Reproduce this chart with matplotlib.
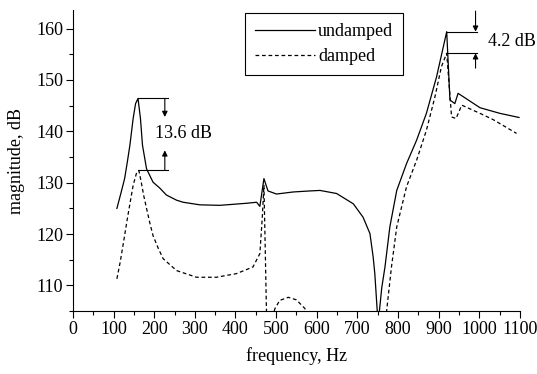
import numpy as np
import matplotlib
matplotlib.use('Agg')
import matplotlib.pyplot as plt

plt.rcParams['font.family'] = 'Liberation Serif'
plt.rcParams['font.size'] = 13

# undamped response
f_und = [108, 118, 127, 134, 140, 148, 154, 160, 166, 171, 181, 197, 213, 230, 255, 271, 312,
         361, 378, 427, 452, 460, 470, 480, 501, 542, 583, 608, 649, 690, 714, 731, 739, 743,
         749, 751, 753, 760, 768, 780, 797, 821, 846, 870, 895, 920, 928, 940, 948, 975,
         1002, 1051, 1098]
m_und = [125.0, 128.0, 130.8, 134.2, 137.3, 142.5, 145.4, 146.4, 142.5, 137.3, 132.7, 130.1, 129.0,
         127.6, 126.6, 126.2, 125.7, 125.6, 125.7, 126.0, 126.2, 125.4, 130.8, 128.4, 127.8,
         128.2, 128.4, 128.5, 127.9, 125.9, 123.3, 120.1, 115.5, 112.3, 105.0, 98.0, 104.0,
         109.5, 113.6, 121.4, 128.5, 133.7, 138.3, 143.5, 150.6, 159.4, 146.1, 145.4, 147.4,
         146.0, 144.6, 143.5, 142.7]

# damped response
f_dmp = [108, 116, 123, 135, 148, 156, 162, 168, 174, 181, 189, 197, 210, 222, 255, 304, 353,
         402, 443, 460, 466, 470, 473, 476, 480, 488, 492, 497, 509, 530, 550, 571, 576, 580,
         760, 768, 772, 784, 797, 821, 846, 870, 891, 907, 920, 932, 943, 957, 1002, 1034, 1092]
m_dmp = [111.3, 114.5, 117.8, 123.6, 129.5, 131.8, 132.4, 130.1, 127.5, 125.0, 122.2, 119.7, 117.2,
         115.2, 112.9, 111.6, 111.6, 112.3, 113.6, 116.2, 123.3, 129.5, 118.0, 105.8, 98.0, 98.0,
         104.0, 105.5, 107.1, 107.7, 107.2, 105.5, 104.0, 98.0, 98.0, 103.0, 105.0, 113.6, 121.4,
         129.2, 134.4, 140.2, 146.7, 152.6, 155.2, 142.8, 142.5, 145.1, 143.5, 142.3, 139.6]

fig = plt.figure(figsize=(5.37, 3.74), dpi=100)
ax = fig.add_axes([0.136, 0.168, 0.832, 0.805])

ax.plot(f_und, m_und, color='black', lw=0.9, label='undamped')
ax.plot(f_dmp, m_dmp, color='black', lw=0.9, linestyle=(0, (3, 2.2)), label='damped')

ax.set_xlim(0, 1100)
ax.set_ylim(105, 163.6)
ax.set_xticks(np.arange(0, 1101, 100))
ax.set_xticks(np.arange(50, 1100, 100), minor=True)
ax.set_yticks(np.arange(110, 161, 10))
ax.set_yticks(np.arange(105, 163, 5), minor=True)
ax.tick_params(which='major', direction='out', length=5, width=0.8, pad=2)
ax.tick_params(which='minor', direction='out', length=3, width=0.8)
ax.spines['top'].set_visible(False)
ax.spines['right'].set_visible(False)
for s in ['left', 'bottom']:
    ax.spines[s].set_linewidth(0.8)

ax.set_xlabel('frequency, Hz', labelpad=7)
ax.set_ylabel('magnitude, dB', labelpad=8)

arrow = dict(arrowstyle='-|>', color='black', lw=0.8, mutation_scale=8, shrinkA=0, shrinkB=0)

# 13.6 dB annotation
ax.plot([160, 234], [146.4, 146.4], color='black', lw=0.8)
ax.plot([162, 234], [132.4, 132.4], color='black', lw=0.8)
ax.annotate('', xy=(226, 142.8), xytext=(226, 146.4), arrowprops=arrow)
ax.annotate('', xy=(226, 136.3), xytext=(226, 132.4), arrowprops=arrow)
ax.text(203, 139.6, '13.6 dB', ha='left', va='center')

# 4.2 dB annotation
ax.plot([920, 994], [159.4, 159.4], color='black', lw=0.8)
ax.plot([920, 994], [155.2, 155.2], color='black', lw=0.8)
ax.annotate('', xy=(991, 159.4), xytext=(991, 163.4), arrowprops=arrow)
ax.annotate('', xy=(991, 155.2), xytext=(991, 152.3), arrowprops=arrow)
ax.text(1021, 157.5, '4.2 dB', ha='left', va='center')

leg = ax.legend(loc='upper left', bbox_to_anchor=(0.385, 0.99), frameon=True, fancybox=False,
                edgecolor='black', framealpha=1, handlelength=3.3, handletextpad=0.2,
                labelspacing=0.45, borderpad=0.55, borderaxespad=0)
leg.get_frame().set_linewidth(0.8)

fig.savefig('out.png', dpi=100)
